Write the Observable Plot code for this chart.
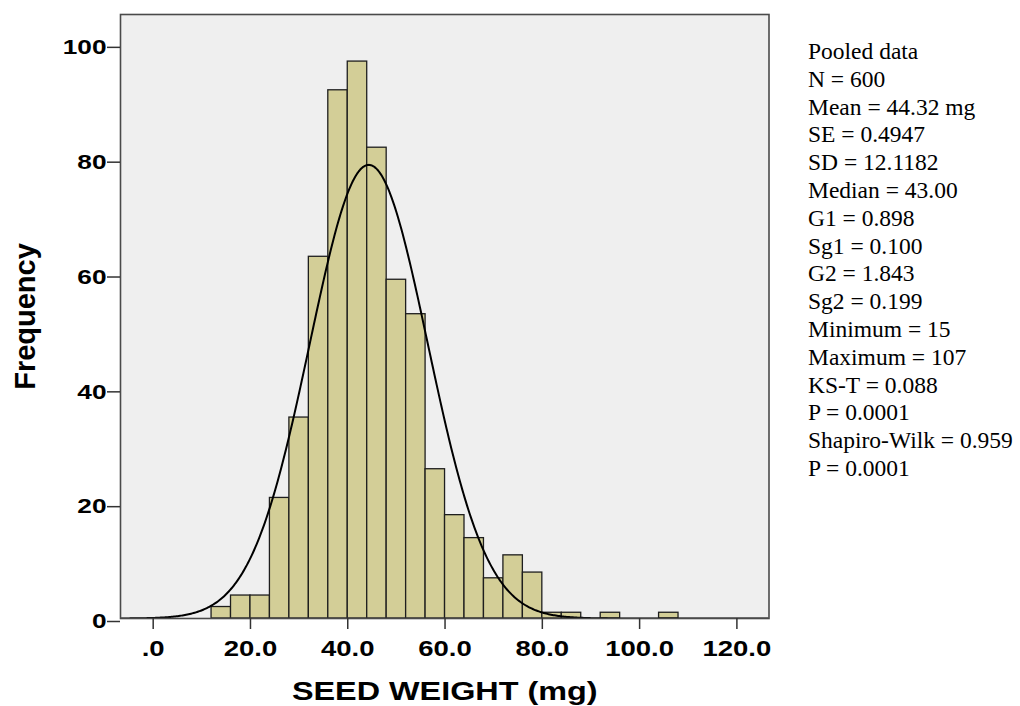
<!DOCTYPE html>
<html>
<head>
<meta charset="utf-8">
<script src="https://cdn.jsdelivr.net/npm/d3@7"></script>
<script src="https://cdn.jsdelivr.net/npm/@observablehq/plot@0.6"></script>
<style>
  html, body { margin: 0; padding: 0; background: #ffffff; }
  #wrap { position: relative; width: 1020px; height: 706px; overflow: hidden; }
  #stats {
    position: absolute; left: 808px; top: 38px;
    font-family: "Liberation Serif", "Times New Roman", serif;
    font-size: 23.5px; line-height: 27.8px; color: #000;
    white-space: pre;
  }
</style>
</head>
<body>
<div id="wrap"><div id="stats"></div></div>
<script>
// Histogram bins (lower edges, mg) and frequencies
const binStarts = [12, 16, 20, 24, 28, 32, 36, 40, 44, 48, 52, 56, 60, 64, 68, 72, 76, 80, 84, 88, 92, 96, 100, 104];
const counts    = [2, 4, 4, 21, 35, 63, 92, 97, 82, 59, 53, 26, 18, 14, 7, 11, 8, 1, 1, 0, 1, 0, 0, 1];
const binWidth = 4;

// Normal curve parameters (from the stated statistics)
const nObs = 600;
const meanW = 44.32;
const sdW = 12.1182;

// Axis ticks and labels
const xTicks = [0, 20, 40, 60, 80, 100, 120];
const xTickLabels = [".0", "20.0", "40.0", "60.0", "80.0", "100.0", "120.0"];
const yTicks = [0, 20, 40, 60, 80, 100];

const xTitle = "SEED WEIGHT (mg)";
const yTitle = "Frequency";

const statsLines = [
  "Pooled data",
  "N = 600",
  "Mean = 44.32 mg",
  "SE = 0.4947",
  "SD = 12.1182",
  "Median = 43.00",
  "G1 = 0.898",
  "Sg1 = 0.100",
  "G2 = 1.843",
  "Sg2 = 0.199",
  "Minimum = 15",
  "Maximum = 107",
  "KS-T = 0.088",
  "P = 0.0001",
  "Shapiro-Wilk = 0.959",
  "P = 0.0001"
];

const bins = binStarts.map((s, i) => ({x0: s, x1: s + binWidth, count: counts[i]})).filter(d => d.count > 0);

const xDomain = [-6.72, 126.6];
const pdf = x => Math.exp(-0.5 * ((x - meanW) / sdW) ** 2) / (sdW * Math.sqrt(2 * Math.PI));
const curve = d3.range(xDomain[0], xDomain[1] + 0.001, 0.25).map(x => ({x, y: nObs * binWidth * pdf(x)}));

const sans = "'Liberation Sans', Arial, sans-serif";

const chart = Plot.plot({
  width: 1020,
  height: 706,
  marginLeft: 120,
  marginRight: 251.5,
  marginTop: 14,
  marginBottom: 88,
  style: {background: "transparent", fontFamily: sans, color: "#000"},
  x: {domain: xDomain},
  y: {domain: [0, 105.2]},
  marks: [
    Plot.frame({fill: "#efefef", stroke: "none"}),
    Plot.rectY(bins, {x1: "x0", x2: "x1", y: "count", fill: "#d3ce97", stroke: "#1e1e1e", strokeWidth: 1.3, inset: 0}),
    Plot.line(curve, {x: "x", y: "y", stroke: "#000", strokeWidth: 2, clip: true}),
    Plot.frame({stroke: "#4a4a4a", strokeWidth: 1.6}),
    Plot.axisX({
      ticks: xTicks, tickSize: 11, tickPadding: 11, strokeWidth: 1.5, stroke: "#333",
      tickFormat: (d) => xTickLabels[xTicks.indexOf(d)],
      fontSize: 22, fontWeight: "bold", label: null, fill: "#000"
    }),
    Plot.axisY({
      ticks: yTicks, tickSize: 13, tickPadding: 1, strokeWidth: 1.5, stroke: "#333",
      tickFormat: d3.format("d"), dy: 3,
      fontSize: 21, fontWeight: "bold", label: null, fill: "#000"
    }),
    Plot.text([xTitle], {frameAnchor: "bottom", lineAnchor: "middle", textAnchor: "middle", dy: 73, fontSize: 25.5, fontWeight: "bold", fill: "#000"}),
    Plot.text([yTitle], {frameAnchor: "left", lineAnchor: "middle", textAnchor: "middle", dx: -95, dy: 0, rotate: -90, fontSize: 29, fontWeight: "bold", fill: "#000"})
  ]
});

document.getElementById("wrap").appendChild(chart);
document.getElementById("stats").textContent = statsLines.join("\n");

// Horizontal stretching of the sans-serif labels, as in the reference
const stretchText = (t, sx) => {
  const tr = t.getAttribute("transform") || "";
  t.setAttribute("transform", tr + ` scale(${sx},1)`);
};
chart.querySelectorAll('g[aria-label="x-axis tick label"] text').forEach(t => stretchText(t, 1.25));
chart.querySelectorAll('g[aria-label="y-axis tick label"] text').forEach(t => stretchText(t, 1.25));
chart.querySelectorAll('text').forEach(t => { if (t.textContent === xTitle) stretchText(t, 1.27); });
</script>
</body>
</html>
